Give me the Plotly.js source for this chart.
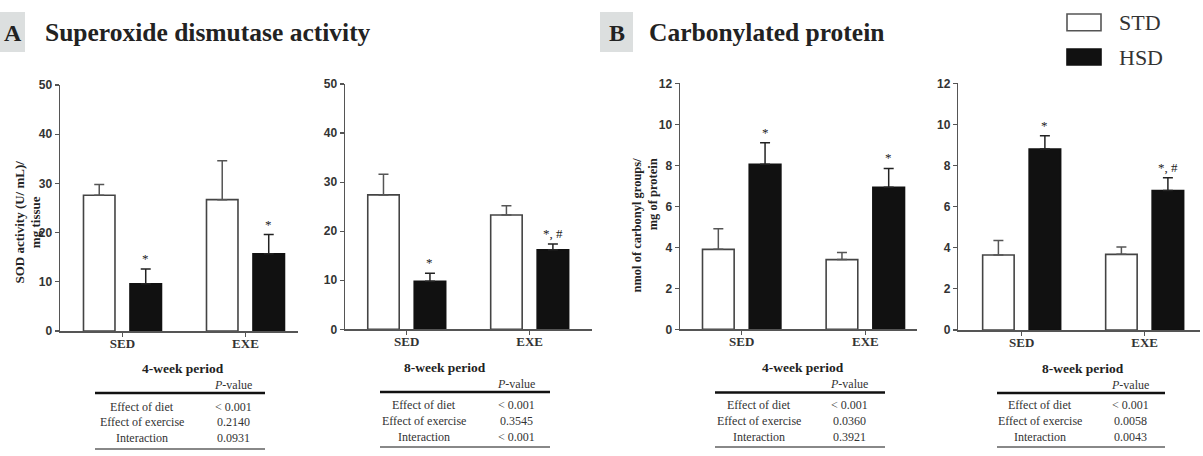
<!DOCTYPE html>
<html>
<head>
<meta charset="utf-8">
<script src="https://cdn.plot.ly/plotly-3.0.1.min.js"></script>
<style>
  html, body { margin: 0; padding: 0; background: #fff; }
  #chart { width: 1203px; height: 456px; }
</style>
</head>
<body>
<div id="chart"></div>
<script>
// Groups and diets
const groups = ["SED", "EXE"];
const diets = ["STD", "HSD"];

// SOD activity (U/mL)/mg tissue, 4-week period: mean and SEM
const sod4Std = [27.6, 26.7];
const sod4StdSem = [2.2, 7.9];
const sod4Hsd = [9.6, 15.7];
const sod4HsdSem = [3.0, 3.9];
const sod4Marks = ["*", "*"];

// SOD activity, 8-week period
const sod8Std = [27.4, 23.3];
const sod8StdSem = [4.2, 1.9];
const sod8Hsd = [9.8, 16.2];
const sod8HsdSem = [1.6, 1.2];
const sod8Marks = ["*", "*, #"];

// Carbonylated protein (nmol carbonyl groups/mg protein), 4-week period
const carb4Std = [3.9, 3.4];
const carb4StdSem = [1.0, 0.35];
const carb4Hsd = [8.05, 6.93];
const carb4HsdSem = [1.05, 0.92];
const carb4Marks = ["*", "*"];

// Carbonylated protein, 8-week period
const carb8Std = [3.65, 3.68];
const carb8StdSem = [0.7, 0.36];
const carb8Hsd = [8.8, 6.78];
const carb8HsdSem = [0.65, 0.63];
const carb8Marks = ["*", "*, #"];

// Two-way ANOVA tables
const effectLabels = ["Effect of diet", "Effect of exercise", "Interaction"];
const sod4P = ["< 0.001", "0.2140", "0.0931"];
const sod8P = ["< 0.001", "0.3545", "< 0.001"];
const carb4P = ["< 0.001", "0.0360", "0.3921"];
const carb8P = ["< 0.001", "0.0058", "0.0043"];
const periodLabels = ["4-week period", "8-week period"];

const W = 1203, H = 456;
const fx = v => v / W;
const fy = v => 1 - v / H;

const SERIF = "Liberation Serif, Times New Roman, serif";
const SANS = "Liberation Sans, Arial, sans-serif";
const AXIS_COL = "#555";

// Panel geometry (pixels) and scales
const panels = [
  { n: "", xd: [60, 298], yd: [331, 85], xr: [-0.508, 1.427], yr: [0, 50], dt: 10,
    std: sod4Std, stdSem: sod4StdSem, hsd: sod4Hsd, hsdSem: sod4HsdSem, marks: sod4Marks,
    p: sod4P, period: periodLabels[0],
    tbl: { x0: 95, x1: 265, title: 183, lab: 142, val: 233, yT: 368, yP: 385, yL: 393, rows: [406.5, 422, 438], yB: 449 } },
  { n: "2", xd: [345, 592], yd: [329.3, 84], xr: [-0.502, 1.507], yr: [0, 50], dt: 10,
    std: sod8Std, stdSem: sod8StdSem, hsd: sod8Hsd, hsdSem: sod8HsdSem, marks: sod8Marks,
    p: sod8P, period: periodLabels[1],
    tbl: { x0: 380, x1: 550, title: 445, lab: 424, val: 516, yT: 367, yP: 384, yL: 392, rows: [405, 421, 436.5], yB: 447 } },
  { n: "3", xd: [680, 917], yd: [329.3, 83.3], xr: [-0.499, 1.418], yr: [0, 12], dt: 2,
    std: carb4Std, stdSem: carb4StdSem, hsd: carb4Hsd, hsdSem: carb4HsdSem, marks: carb4Marks,
    p: carb4P, period: periodLabels[0],
    tbl: { x0: 715, x1: 885, title: 803, lab: 759, val: 849, yT: 367, yP: 384, yL: 392.5, rows: [405, 421, 436.5], yB: 447 } },
  { n: "4", xd: [958.3, 1200], yd: [330, 83.3], xr: [-0.515, 1.45], yr: [0, 12], dt: 2,
    std: carb8Std, stdSem: carb8StdSem, hsd: carb8Hsd, hsdSem: carb8HsdSem, marks: carb8Marks,
    p: carb8P, period: periodLabels[1],
    tbl: { x0: 997, x1: 1165, title: 1083, lab: 1040, val: 1130, yT: 368, yP: 385, yL: 393, rows: [405, 421, 437], yB: 447 } }
];

const BAR_W = 0.256;
const STD_OFF = -0.317;
const HSD_OFF = 0.061;

const traces = [];
const layout = {
  width: W, height: H,
  margin: { l: 0, r: 0, t: 0, b: 0 },
  paper_bgcolor: "#fff", plot_bgcolor: "rgba(0,0,0,0)",
  showlegend: false,
  barmode: "overlay",
  annotations: [],
  shapes: []
};

panels.forEach(pn => {
  const xa = "x" + pn.n, ya = "y" + pn.n;
  const zeros = groups.map(() => 0);
  traces.push({
    type: "bar", name: diets[0], x: groups, y: pn.std, xaxis: xa, yaxis: ya,
    width: BAR_W, offset: STD_OFF,
    marker: { color: "#fff", line: { color: "#444", width: 1.6 } },
    error_y: { type: "data", symmetric: false, array: pn.stdSem, arrayminus: zeros,
               color: "#555", thickness: 1.5, width: 5 },
    hoverinfo: "y"
  });
  traces.push({
    type: "bar", name: diets[1], x: groups, y: pn.hsd, xaxis: xa, yaxis: ya,
    width: BAR_W, offset: HSD_OFF,
    marker: { color: "#111", line: { color: "#111", width: 1.6 } },
    error_y: { type: "data", symmetric: false, array: pn.hsdSem, arrayminus: zeros,
               color: "#222", thickness: 1.5, width: 5 },
    hoverinfo: "y"
  });

  layout["xaxis" + pn.n] = {
    domain: [fx(pn.xd[0]), fx(pn.xd[1])], anchor: ya,
    type: "category", range: pn.xr, fixedrange: true,
    showline: true, linecolor: AXIS_COL, linewidth: 1.5,
    ticks: "outside", ticklen: 4, tickwidth: 1.2, tickcolor: AXIS_COL,
    ticklabelstandoff: -4,
    showgrid: false, zeroline: false,
    tickfont: { family: SERIF, size: 13, color: "#333", weight: "bold" }
  };
  layout["yaxis" + pn.n] = {
    domain: [fy(pn.yd[0]), fy(pn.yd[1])], anchor: xa,
    range: pn.yr, dtick: pn.dt, fixedrange: true,
    showline: true, linecolor: AXIS_COL, linewidth: 1.5,
    ticks: "outside", ticklen: 4, tickwidth: 1.2, tickcolor: AXIS_COL,
    showgrid: false, zeroline: false,
    tickfont: { family: SANS, size: 12, color: "#333", weight: "bold" }
  };

  // significance marks above the HSD error bars
  pn.marks.forEach((m, i) => {
    layout.annotations.push({
      xref: xa, yref: ya, x: i + HSD_OFF + BAR_W / 2, y: pn.hsd[i] + pn.hsdSem[i],
      text: m, showarrow: false, yanchor: "bottom", yshift: 1,
      font: { family: SERIF, size: 13, color: "#222" }
    });
  });

  // ANOVA table under each panel
  const t = pn.tbl;
  layout.annotations.push({
    xref: "paper", yref: "paper", x: fx(t.title), y: fy(t.yT), text: "<b>" + pn.period + "</b>",
    showarrow: false, xanchor: "center", yanchor: "middle",
    font: { family: SERIF, size: 13.5, color: "#222" }
  });
  layout.annotations.push({
    xref: "paper", yref: "paper", x: fx(t.val), y: fy(t.yP), text: "<i>P</i>-value",
    showarrow: false, xanchor: "center", yanchor: "middle",
    font: { family: SERIF, size: 12, color: "#333" }
  });
  effectLabels.forEach((lab, i) => {
    layout.annotations.push({
      xref: "paper", yref: "paper", x: fx(t.lab), y: fy(t.rows[i]), text: lab,
      showarrow: false, xanchor: "center", yanchor: "middle",
      font: { family: SERIF, size: 12, color: "#333" }
    });
    layout.annotations.push({
      xref: "paper", yref: "paper", x: fx(t.val), y: fy(t.rows[i]), text: pn.p[i],
      showarrow: false, xanchor: "center", yanchor: "middle",
      font: { family: SERIF, size: 12, color: "#333" }
    });
  });
  layout.shapes.push({
    type: "line", xref: "paper", yref: "paper",
    x0: fx(t.x0), x1: fx(t.x1), y0: fy(t.yL), y1: fy(t.yL),
    line: { color: "#111", width: 2.5 }
  });
  layout.shapes.push({
    type: "line", xref: "paper", yref: "paper",
    x0: fx(t.x0), x1: fx(t.x1), y0: fy(t.yB), y1: fy(t.yB),
    line: { color: "#888", width: 2 }
  });
});

// y-axis titles
layout.annotations.push({
  xref: "paper", yref: "paper", x: fx(27.5), y: fy(222),
  text: "<b>SOD activity (U/ mL)/<br>mg tissue</b>", textangle: -90,
  showarrow: false, xanchor: "center", yanchor: "middle", align: "center",
  font: { family: SERIF, size: 13, color: "#222" }
});
layout.annotations.push({
  xref: "paper", yref: "paper", x: fx(644.5), y: fy(225),
  text: "<b>nmol of carbonyl groups/<br>mg of protein</b>", textangle: -90,
  showarrow: false, xanchor: "center", yanchor: "middle", align: "right",
  font: { family: SERIF, size: 12.5, color: "#222" }
});

// section letters and headings
[[0, 25, "A", 43, "Superoxide dismutase activity"],
 [600, 633, "B", 647, "Carbonylated protein"]].forEach(([b0, b1, letter, tx, title]) => {
  layout.shapes.push({
    type: "rect", xref: "paper", yref: "paper",
    x0: fx(b0), x1: fx(b1), y0: fy(52), y1: fy(12),
    fillcolor: "#dcdfdf", line: { width: 0 }, layer: "below"
  });
  layout.annotations.push({
    xref: "paper", yref: "paper", x: fx((b0 + b1) / 2), y: fy(32.5), text: "<b>" + letter + "</b>",
    showarrow: false, xanchor: "center", yanchor: "middle",
    font: { family: SERIF, size: 24, color: "#222" }
  });
  layout.annotations.push({
    xref: "paper", yref: "paper", x: fx(tx), y: fy(32.5), text: "<b>" + title + "</b>",
    showarrow: false, xanchor: "left", yanchor: "middle",
    font: { family: SERIF, size: 25.5, color: "#222" }
  });
});

// legend keys
[[14, 30.7, "#fff", "#555", diets[0], 22], [49, 65, "#111", "#111", diets[1], 57]].forEach(([y0, y1, fill, edge, label, yc]) => {
  layout.shapes.push({
    type: "rect", xref: "paper", yref: "paper",
    x0: fx(1067), x1: fx(1101), y0: fy(y1), y1: fy(y0),
    fillcolor: fill, line: { color: edge, width: 1.6 }
  });
  layout.annotations.push({
    xref: "paper", yref: "paper", x: fx(1117), y: fy(yc), text: label,
    showarrow: false, xanchor: "left", yanchor: "middle",
    font: { family: SERIF, size: 22, color: "#333" }
  });
});

Plotly.newPlot("chart", traces, layout, { staticPlot: true, displayModeBar: false });
</script>
</body>
</html>
